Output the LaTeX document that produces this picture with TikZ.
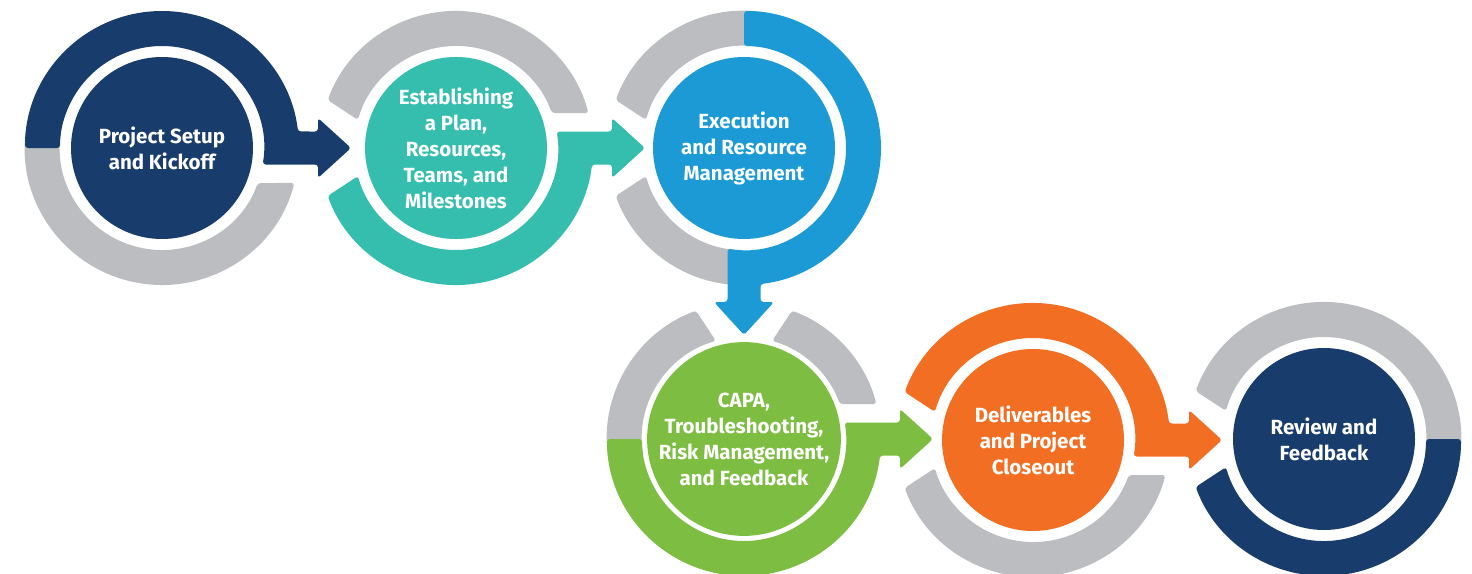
\documentclass[tikz,border=0pt]{standalone}
\usepackage{fontspec}
\setmainfont{Fira Sans}
\usetikzlibrary{calc}

\definecolor{navyc}{HTML}{183C6B}
\definecolor{tealc}{HTML}{35BDAE}
\definecolor{bluec}{HTML}{1B9AD6}
\definecolor{greenc}{HTML}{7DBD42}
\definecolor{orangec}{HTML}{F26E22}
\definecolor{grayc}{HTML}{BBBDC0}

\tikzset{
  seg/.style={rounded corners=3pt},
  hub/.style={circle, inner sep=0pt, minimum size=182pt, text=white,
    align=center, font=\fontsize{20.5}{26}\selectfont\bfseries},
}

\begin{document}
\begin{tikzpicture}[x=1pt,y=1pt]
\useasboundingbox (0,0) rectangle (1472,-573);

% stage centres
\coordinate (c1) at (162,-148);
\coordinate (c2) at (456,-148);
\coordinate (c3) at (744,-148);
\coordinate (c4) at (744,-439);
\coordinate (c5) at (1033,-440);
\coordinate (c6) at (1324,-439);

% ---------- stage 1 ----------
\fill[grayc,seg] ($(c1)+(170:137pt)$) arc[start angle=170,end angle=345.2,radius=137pt]
  -- ($(c1)+(339.93:102pt)$) arc[start angle=339.93,end angle=170,radius=102pt] -- cycle;
\fill[navyc,seg] ($(c1)+(180:137pt)$) arc[start angle=180,end angle=6.92,radius=137pt]
  -- ($(c1)+(156pt,16.5pt)$) -- ($(c1)+(156pt,30pt)$) -- ($(c1)+(189pt,0pt)$)
  -- ($(c1)+(156pt,-30pt)$) -- ($(c1)+(156pt,-16.5pt)$)
  -- ($(c1)+(-9.31:102pt)$) arc[start angle=-9.31,end angle=180,radius=102pt] -- cycle;

% ---------- stage 2 ----------
\fill[grayc,seg] ($(c2)+(159.5:137pt)$) arc[start angle=159.5,end angle=14.8,radius=137pt]
  -- ($(c2)+(20.07:102pt)$) arc[start angle=20.07,end angle=164,radius=102pt] -- cycle;
\fill[tealc,seg] ($(c2)+(-159.5:137pt)$) arc[start angle=-159.5,end angle=-6.92,radius=137pt]
  -- ($(c2)+(156pt,-16.5pt)$) -- ($(c2)+(156pt,-30pt)$) -- ($(c2)+(189pt,0pt)$)
  -- ($(c2)+(156pt,30pt)$) -- ($(c2)+(156pt,16.5pt)$)
  -- ($(c2)+(9.31:102pt)$) arc[start angle=9.31,end angle=-164,radius=102pt] -- cycle;

% ---------- stage 3 ----------
\fill[grayc,seg] ($(c3)+(159.5:137pt)$) arc[start angle=159.5,end angle=80,radius=137pt]
  -- ($(c3)+(80:102pt)$) arc[start angle=80,end angle=164,radius=102pt] -- cycle;
\fill[grayc,seg] ($(c3)+(-159.5:137pt)$) arc[start angle=-159.5,end angle=-90,radius=137pt]
  -- ($(c3)+(-90:102pt)$) arc[start angle=-90,end angle=-164,radius=102pt] -- cycle;
\fill[bluec,seg] ($(c3)+(90:137pt)$) arc[start angle=90,end angle=-83.08,radius=137pt]
  -- ($(c3)+(16.5pt,-154pt)$) -- ($(c3)+(30pt,-154pt)$) -- ($(c3)+(0pt,-187pt)$)
  -- ($(c3)+(-30pt,-154pt)$) -- ($(c3)+(-16.5pt,-154pt)$)
  -- ($(c3)+(-99.31:102pt)$) arc[start angle=-99.31,end angle=90,radius=102pt] -- cycle;

% ---------- stage 4 ----------
\fill[grayc,seg] ($(c4)+(110.5:137pt)$) arc[start angle=110.5,end angle=190,radius=137pt]
  -- ($(c4)+(190:102pt)$) arc[start angle=190,end angle=106,radius=102pt] -- cycle;
\fill[grayc,seg] ($(c4)+(69.5:137pt)$) arc[start angle=69.5,end angle=14.8,radius=137pt]
  -- ($(c4)+(20.07:102pt)$) arc[start angle=20.07,end angle=74,radius=102pt] -- cycle;
\fill[greenc,seg] ($(c4)+(180:137pt)$) arc[start angle=180,end angle=353.08,radius=137pt]
  -- ($(c4)+(156pt,-16.5pt)$) -- ($(c4)+(156pt,-30pt)$) -- ($(c4)+(189pt,0pt)$)
  -- ($(c4)+(156pt,30pt)$) -- ($(c4)+(156pt,16.5pt)$)
  -- ($(c4)+(9.31:102pt)$) arc[start angle=9.31,end angle=-180,radius=102pt] -- cycle;

% ---------- stage 5 ----------
\fill[grayc,seg] ($(c5)+(-159.5:137pt)$) arc[start angle=-159.5,end angle=-14.8,radius=137pt]
  -- ($(c5)+(-20.07:102pt)$) arc[start angle=-20.07,end angle=-164,radius=102pt] -- cycle;
\fill[orangec,seg] ($(c5)+(159.5:137pt)$) arc[start angle=159.5,end angle=6.92,radius=137pt]
  -- ($(c5)+(156pt,16.5pt)$) -- ($(c5)+(156pt,30pt)$) -- ($(c5)+(189pt,0pt)$)
  -- ($(c5)+(156pt,-30pt)$) -- ($(c5)+(156pt,-16.5pt)$)
  -- ($(c5)+(-9.31:102pt)$) arc[start angle=-9.31,end angle=164,radius=102pt] -- cycle;

% ---------- stage 6 ----------
\fill[grayc,seg] ($(c6)+(159.5:137pt)$) arc[start angle=159.5,end angle=-10,radius=137pt]
  -- ($(c6)+(-10:102pt)$) arc[start angle=-10,end angle=164,radius=102pt] -- cycle;
\fill[navyc,seg] ($(c6)+(0:137pt)$) arc[start angle=0,end angle=-159.5,radius=137pt]
  -- ($(c6)+(-164:102pt)$) arc[start angle=-164,end angle=0,radius=102pt] -- cycle;

% ---------- hubs with labels ----------
\node[hub,fill=navyc]   (s1) at (c1) {Project Setup\\and Kickoff};
\node[hub,fill=tealc]   (s2) at (c2) {Establishing\\a Plan,\\Resources,\\Teams, and\\Milestones};
\node[hub,fill=bluec]   (s3) at (c3) {Execution\\and Resource\\Management};
\node[hub,fill=greenc]  (s4) at (c4) {CAPA,\\Troubleshooting,\\Risk Management,\\and Feedback};
\node[hub,fill=orangec] (s5) at (c5) {Deliverables\\and Project\\Closeout};
\node[hub,fill=navyc]   (s6) at (c6) {Review and\\Feedback};
\end{tikzpicture}
\end{document}
